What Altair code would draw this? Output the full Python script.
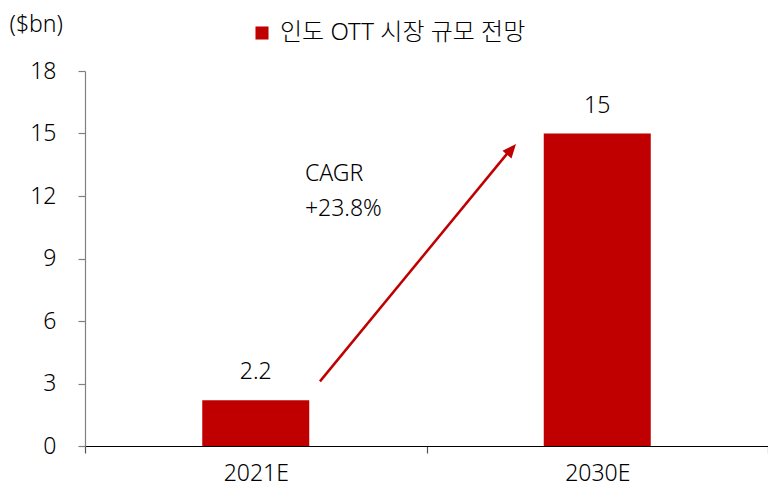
import altair as alt
import pandas as pd

categories = ["2021E", "2030E"]
values = [2.2, 15]
series_name = "인도 OTT 시장 규모 전망"
value_labels = ["2.2", "15"]

# arrow (overlay continuous x: 0..2 spanning the two category bands)
arrow_x = [0.688, 1.238]
arrow_y = [3.1, 14.07]
arrow_tip_x = [1.262]
arrow_tip_y = [14.5]
cagr_x = [0.644]
cagr_y = [12.72]
cagr_text = ["CAGR\n+23.8%"]

FONT = "Noto Sans, Noto Sans CJK KR"
FW = 300
FS = 23
RED = "#C00000"

bars_df = pd.DataFrame({"cat": categories, "val": values, "label": value_labels,
                        "series": [series_name] * len(categories)})

base = alt.Chart(bars_df)

bars = base.mark_bar(size=107).encode(
    x=alt.X("cat:N", sort=categories, title=None,
            scale=alt.Scale(paddingInner=0, paddingOuter=0),
            axis=alt.Axis(labelAngle=0, tickBand="extent", tickSize=7,
                          domainColor="#000000", tickColor="#555555",
                          labelFontSize=FS, labelFont=FONT, labelFontWeight=FW,
                          labelColor="#000000", labelPadding=9)),
    y=alt.Y("val:Q", scale=alt.Scale(domain=[0, 18], nice=False),
            axis=alt.Axis(values=[0, 3, 6, 9, 12, 15, 18], grid=False, tickSize=7,
                          domainColor="#808080", tickColor="#808080",
                          labelFontSize=FS, labelFont=FONT, labelFontWeight=FW,
                          labelColor="#000000", labelPadding=22,
                          title="($bn)", titleAngle=0, titleFontSize=FS,
                          titleFont=FONT, titleFontWeight=FW, titleColor="#000000",
                          titleAlign="left", titleBaseline="alphabetic",
                          titleX=-76, titleY=-40)),
    color=alt.Color("series:N", scale=alt.Scale(range=[RED]),
                    legend=alt.Legend(title=None, orient="none", legendX=165, legendY=-50,
                                      symbolType="square", symbolSize=170,
                                      symbolStrokeWidth=0, labelFontSize=24,
                                      labelFont=FONT, labelFontWeight=FW,
                                      labelColor="#000000",
                                      labelLimit=0, padding=0, labelOffset=6)),
)

labels = base.mark_text(dy=-21, baseline="alphabetic", fontSize=FS, font=FONT,
                        fontWeight=FW, color="#000000").encode(
    x=alt.X("cat:N", sort=categories),
    y=alt.Y("val:Q"),
    text="label:N",
)

arrow_df = pd.DataFrame({"ax": arrow_x, "ay": arrow_y})
tip_df = pd.DataFrame({"ax": arrow_tip_x, "ay": arrow_tip_y})
cagr_df = pd.DataFrame({"ax": cagr_x, "ay": cagr_y, "t": cagr_text})

xq = alt.X("ax:Q", scale=alt.Scale(domain=[0, 2], nice=False, zero=False), axis=None)
yq = alt.Y("ay:Q", scale=alt.Scale(domain=[0, 18], nice=False), axis=None)

arrow_line = alt.Chart(arrow_df).mark_line(color=RED, strokeWidth=2.5).encode(x=xq, y=yq)
arrow_head = alt.Chart(tip_df).mark_point(
    shape="M0,0L-0.42,1L0.42,1Z", size=784, filled=True, color=RED, opacity=1,
    angle=40, strokeWidth=0).encode(x=xq, y=yq)
cagr = alt.Chart(cagr_df).mark_text(align="left", baseline="alphabetic", fontSize=FS,
                                     font=FONT, fontWeight=FW, color="#000000",
                                     lineBreak="\n", lineHeight=35).encode(
    x=xq, y=yq, text="t:N")

overlay = alt.layer(arrow_line, arrow_head, cagr)
main = alt.layer(bars, labels)

chart = alt.layer(main, overlay).resolve_scale(x="independent", y="independent").properties(
    width=683, height=375,
    autosize=alt.AutoSizeParams(type="none"),
    padding={"left": 85, "top": 71, "right": 0, "bottom": 40},
    background="#ffffff",
).configure_view(stroke=None).configure_axis(domainWidth=1.2, tickWidth=1.2)

chart.save("out.html", embed_options={"renderer": "svg", "actions": False})
